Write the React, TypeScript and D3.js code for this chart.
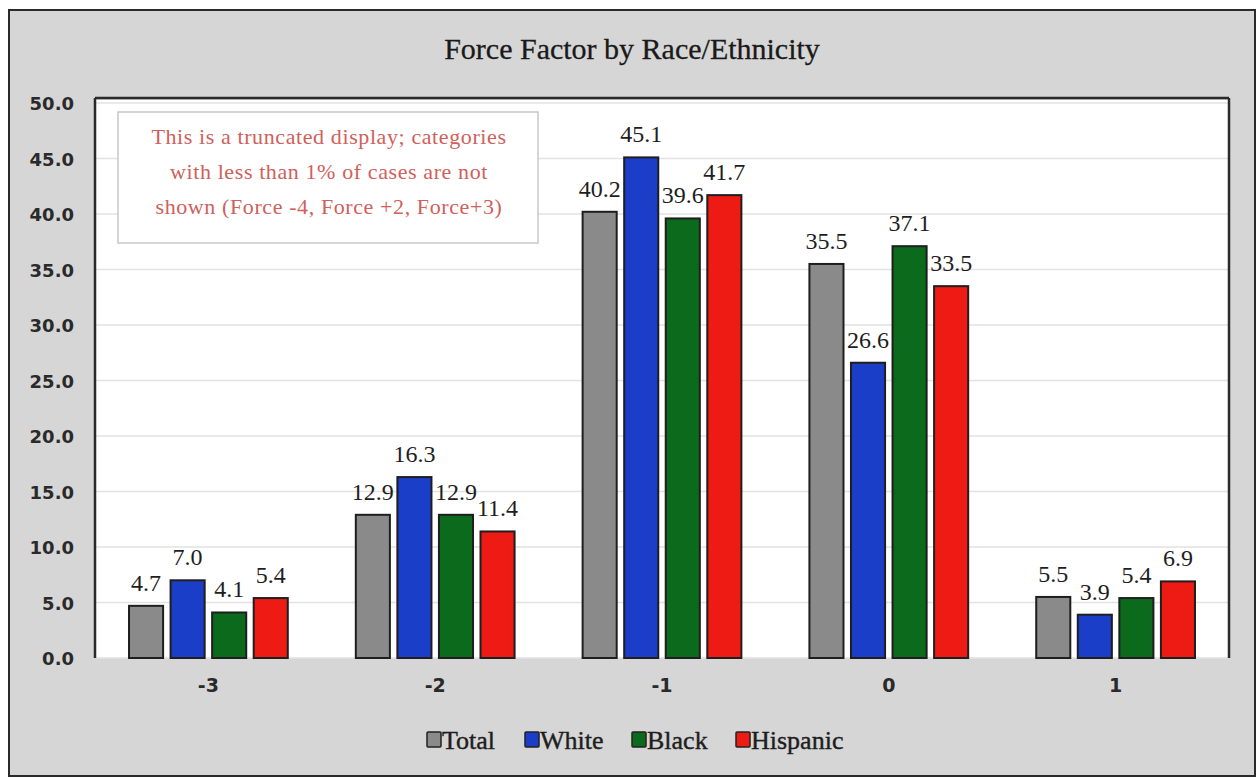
import React from "react";
import * as d3 from "d3";

const categories = ["-3", "-2", "-1", "0", "1"];
const seriesNames = ["Total", "White", "Black", "Hispanic"];
const totalValues = [4.7, 12.9, 40.2, 35.5, 5.5];
const whiteValues = [7.0, 16.3, 45.1, 26.6, 3.9];
const blackValues = [4.1, 12.9, 39.6, 37.1, 5.4];
const hispanicValues = [5.4, 11.4, 41.7, 33.5, 6.9];
const yTicks = [0, 5, 10, 15, 20, 25, 30, 35, 40, 45, 50];
const seriesColors = ["#8a8a8a", "#1a3ec8", "#0b6a1c", "#ee1a14"];
const noteLines = [
  "This is a truncated display; categories",
  "with less than 1% of cases are not",
  "shown (Force -4, Force +2, Force+3)",
];

export default function App() {
  const W = 1260, H = 778;
  const left = 95, right = 1229, top = 100, bottom = 658;
  const series = [totalValues, whiteValues, blackValues, hispanicValues];
  const y = d3.scaleLinear().domain([0, 50]).range([bottom, 103]);
  const x0 = d3.scaleBand().domain(categories).range([left, right]).paddingInner(0.3).paddingOuter(0.15);
  const x1 = d3.scaleBand().domain(seriesNames).range([0, x0.bandwidth()]).paddingInner(0.18).paddingOuter(0);
  const serif = "'Liberation Serif', 'DejaVu Serif', serif";
  const sans = "'DejaVu Sans', Verdana, sans-serif";
  const legendItems = [
    { name: "Total", x: 427 },
    { name: "White", x: 525 },
    { name: "Black", x: 632 },
    { name: "Hispanic", x: 736 },
  ];
  return (
    <svg width={W} height={H} style={{ position: "absolute", left: 0, top: 0, background: "#fff" }}>
      <rect x={9} y={10} width={1246} height={766} fill="#d6d6d6" stroke="#2a2a2a" strokeWidth={2} />
      <text x={632} y={59} textAnchor="middle" fontFamily={serif} fontSize={30} fill="#1a1a1a" stroke="#1a1a1a" strokeWidth={0.3}>
        Force Factor by Race/Ethnicity
      </text>
      <rect x={left} y={top} width={right - left} height={bottom - top} fill="#ffffff" />
      {yTicks.map((t) => (
        <line key={"g" + t} x1={left} x2={right} y1={y(t)} y2={y(t)} stroke="#e2e2e2" strokeWidth={1.5} />
      ))}
      <line x1={left} x2={left} y1={top - 2} y2={bottom} stroke="#2a2a2a" strokeWidth={2.5} />
      <line x1={left} x2={right} y1={top - 2} y2={top - 2} stroke="#2a2a2a" strokeWidth={2.5} />
      <line x1={right} x2={right} y1={top - 2} y2={bottom} stroke="#2a2a2a" strokeWidth={2.5} />
      <rect x={118} y={112} width={420} height={131} fill="#ffffff" stroke="#c8c8c8" strokeWidth={1.5} />
      {noteLines.map((l, i) => (
        <text key={l} x={329} y={144 + i * 35} textAnchor="middle" fontFamily={serif} fontSize={22} letterSpacing={0.6} fill="#d0605a">
          {l}
        </text>
      ))}
      {yTicks.map((t) => (
        <text key={"t" + t} x={74} y={y(t) + 7} textAnchor="end" fontFamily={sans} fontWeight="bold" fontSize={18} fill="#2a2a2a">
          {t.toFixed(1)}
        </text>
      ))}
      {categories.map((c, ci) => (
        <g key={c} transform={`translate(${x0(c)},0)`}>
          {seriesNames.map((s, si) => {
            const v = series[si][ci];
            const bx = x1(s) as number;
            return (
              <g key={s}>
                <rect x={bx} y={y(v)} width={x1.bandwidth()} height={bottom - y(v)} fill={seriesColors[si]} stroke="#1e1e1e" strokeWidth={2} />
                <text x={bx + x1.bandwidth() / 2} y={y(v) - 15} textAnchor="middle" fontFamily={serif} fontSize={24} fill="#1e1e1e">
                  {v.toFixed(1)}
                </text>
              </g>
            );
          })}
          <text x={x0.bandwidth() / 2} y={692} textAnchor="middle" fontFamily={sans} fontWeight="bold" fontSize={19} fill="#2a2a2a">
            {c}
          </text>
        </g>
      ))}
      {legendItems.map((it, i) => (
        <g key={it.name}>
          <rect x={it.x} y={732} width={14} height={15} fill={seriesColors[i]} stroke="#222" strokeWidth={1.5} rx={1} />
          <text x={it.x + 15} y={749} fontFamily={serif} fontSize={26} fill="#1e1e1e" stroke="#1e1e1e" strokeWidth={0.4}>
            {it.name}
          </text>
        </g>
      ))}
    </svg>
  );
}
